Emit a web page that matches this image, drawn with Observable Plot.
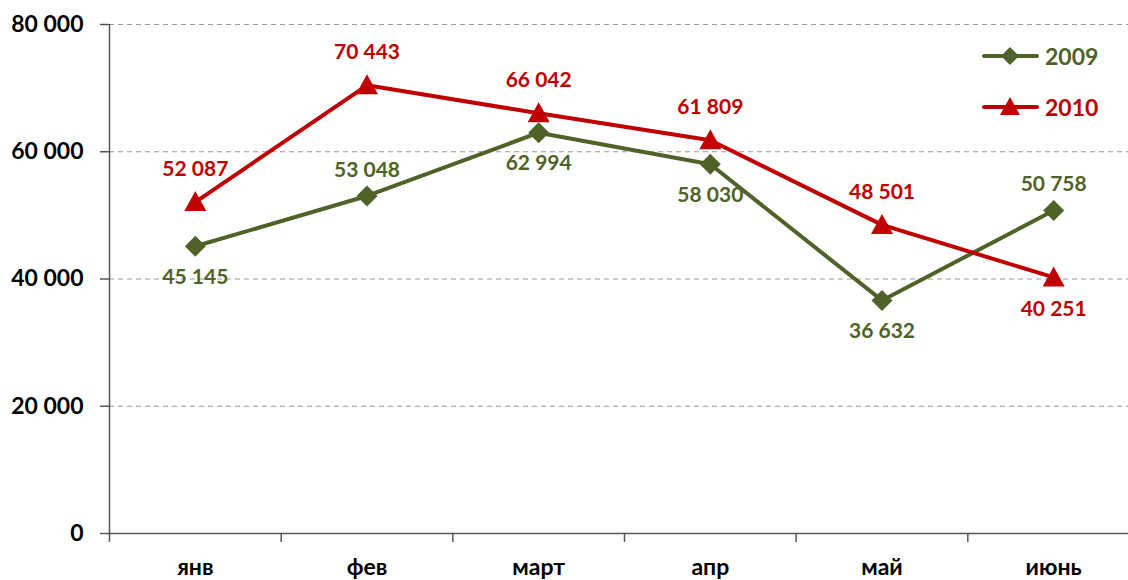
<!DOCTYPE html>
<html>
<head>
<meta charset="utf-8">
<script src="https://cdn.jsdelivr.net/npm/d3@7"></script>
<script src="https://cdn.jsdelivr.net/npm/@observablehq/plot@0.6"></script>
<style>
  html, body { margin: 0; padding: 0; background: #fff; }
  #wrap { position: relative; width: 1128px; height: 580px; overflow: hidden; font-family: Lato, "Open Sans", sans-serif; }
  .leg { position: absolute; display: flex; align-items: center; font-weight: bold; font-size: 23px; }
  .leg svg { margin-right: 6px; }
</style>
</head>
<body>
<div id="wrap"></div>
<script>
const months = ["янв", "фев", "март", "апр", "май", "июнь"];
const values2009 = [45145, 53048, 62994, 58030, 36632, 50758];
const values2010 = [52087, 70443, 66042, 61809, 48501, 40251];
const labelSide2009 = ["below", "above", "below", "below", "below", "above"];
const labelSide2010 = ["above", "above", "above", "above", "above", "below"];
const yTicks = [0, 20000, 40000, 60000, 80000];
const series = ["2009", "2010"];

const GREEN = "#4F6228";
const RED = "#C00000";

const fmt = d3.formatLocale({decimal: ",", thousands: "\u00a0", grouping: [3], currency: ["", ""]}).format(",d");

const rows = [];
months.forEach((m, i) => {
  rows.push({i, month: m, year: "2009", v: values2009[i], side: labelSide2009[i]});
  rows.push({i, month: m, year: "2010", v: values2010[i], side: labelSide2010[i]});
});
const r09 = rows.filter(d => d.year === "2009");
const r10 = rows.filter(d => d.year === "2010");

const diamond = {
  draw(ctx, size) {
    const h = Math.sqrt(size / Math.PI) * 1.05;
    ctx.moveTo(0, -h); ctx.lineTo(h, 0); ctx.lineTo(0, h); ctx.lineTo(-h, 0); ctx.closePath();
  }
};
const triangle = {
  draw(ctx, size) {
    const h = Math.sqrt(size / Math.PI);
    ctx.moveTo(0, -h * 1.1); ctx.lineTo(h * 1.1, h * 0.9); ctx.lineTo(-h * 1.1, h * 0.9); ctx.closePath();
  }
};

const boundaries = d3.range(-0.5, 6, 1);

const chart = Plot.plot({
  width: 1128,
  height: 580,
  marginTop: 24,
  marginBottom: 47,
  marginLeft: 109,
  marginRight: -11,
  style: {fontFamily: "Lato, 'Open Sans', sans-serif", color: "#000", background: "#fff", overflow: "visible"},
  x: {domain: [-0.5, 5.5], axis: null},
  y: {domain: [0, 80000], axis: null},
  color: {domain: series, range: [GREEN, RED]},
  marks: [
    Plot.gridY(yTicks.filter(t => t > 0), {stroke: "#999", strokeOpacity: 1, strokeWidth: 1, strokeDasharray: "5,4"}),
    Plot.axisY(yTicks, {label: null, tickSize: 9, tickPadding: 17, tickFormat: fmt, fontSize: 23, fontWeight: "bold", stroke: "#555", strokeWidth: 1.5}),
    Plot.axisX(boundaries, {label: null, tickSize: 9, tickFormat: () => "", stroke: "#555", strokeWidth: 1.5}),
    Plot.axisX(d3.range(months.length), {label: null, tickSize: 0, tickPadding: 25, tickFormat: i => months[i], fontSize: 23, fontWeight: "bold"}),
    Plot.ruleX([-0.5], {stroke: "#555", strokeWidth: 1.5}),
    Plot.ruleY([0], {stroke: "#555", strokeWidth: 1.5}),
    Plot.line(rows, {x: "i", y: "v", z: "year", stroke: "year", strokeWidth: 4}),
    Plot.dot(r09, {x: "i", y: "v", symbol: diamond, r: 10, fill: GREEN, stroke: null}),
    Plot.dot(r10, {x: "i", y: "v", symbol: triangle, r: 10, fill: RED, stroke: null}),
    Plot.text(r09.filter(d => d.side === "above"), {x: "i", y: "v", text: d => fmt(d.v), dy: -26, fill: GREEN, fontSize: 21, fontWeight: "bold"}),
    Plot.text(r09.filter(d => d.side === "below"), {x: "i", y: "v", text: d => fmt(d.v), dy: 31, fill: GREEN, fontSize: 21, fontWeight: "bold"}),
    Plot.text(r10.filter(d => d.side === "above"), {x: "i", y: "v", text: d => fmt(d.v), dy: -33, fill: RED, fontSize: 21, fontWeight: "bold"}),
    Plot.text(r10.filter(d => d.side === "below"), {x: "i", y: "v", text: d => fmt(d.v), dy: 32, fill: RED, fontSize: 21, fontWeight: "bold"})
  ]
});

const wrap = document.getElementById("wrap");
wrap.appendChild(chart);

function legendItem(label, color, kind, top) {
  const div = document.createElement("div");
  div.className = "leg";
  div.style.left = "982px";
  div.style.top = top + "px";
  div.style.color = color;
  const marker = kind === "diamond"
    ? `<path d="M28,3 L37,12 L28,21 L19,12 Z" fill="${color}"/>`
    : `<path d="M28,2 L38,20 L18,20 Z" fill="${color}"/>`;
  div.innerHTML = `<svg width="57" height="24"><line x1="2" x2="55" y1="12" y2="12" stroke="${color}" stroke-width="4" stroke-linecap="round"/>${marker}</svg><span>${label}</span>`;
  wrap.appendChild(div);
}
legendItem(series[0], GREEN, "diamond", 42);
legendItem(series[1], RED, "triangle", 93);
</script>
</body>
</html>
